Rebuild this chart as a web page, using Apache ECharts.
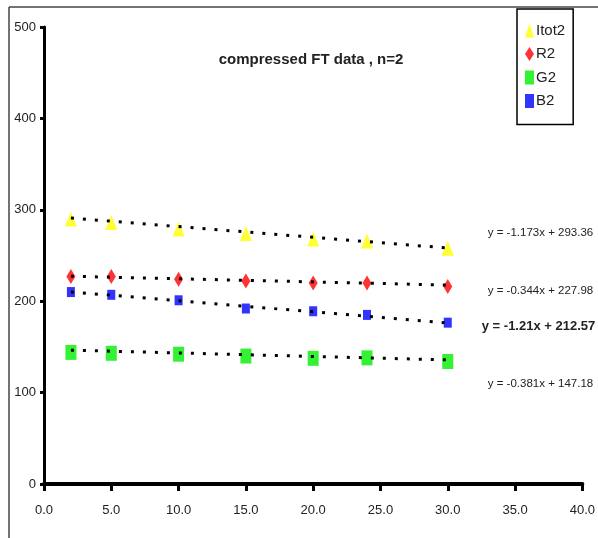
<!DOCTYPE html>
<html lang="en">
  <head>
    <meta charset="UTF-8" />
    <title>compressed FT data</title>
    <script src="https://cdn.jsdelivr.net/npm/echarts@6/dist/echarts.min.js"></script>
    <style>
      html, body { margin: 0; padding: 0; background: #fff; }
    </style>
  </head>

  <body>
    <div id="main" style="width: 598px; height: 538px"></div>

    <script type="text/javascript">
      // data
      const xValues = [2, 5, 10, 15, 20, 24, 30];
      const itot2 = [290, 286, 279, 274, 268, 266, 258];
      const r2 = [227, 227, 224, 222, 220, 220, 216];
      const g2 = [144, 143, 142, 140, 137.5, 138, 134];
      const b2 = [210, 207, 201, 192, 189, 185, 176.5];

      // trend line coefficients, as printed on the chart
      const slopes = [-1.173, -0.344, -0.381, -1.21];
      const intercepts = [293.36, 227.98, 147.18, 212.57];
      const eqLabels = [
        "y = -1.173x + 293.36",
        "y = -0.344x + 227.98",
        "y = -0.381x + 147.18",
        "y = -1.21x + 212.57",
      ];

      const xTicks = ["0.0", "5.0", "10.0", "15.0", "20.0", "25.0", "30.0", "35.0", "40.0"];

      const font = '"Liberation Sans", Arial, sans-serif';

      let pairs = (ys) => xValues.map((x, i) => [x, ys[i]]);

      // trend line from first to last x
      let trend = (k) => {
        let x0 = xValues[0];
        let x1 = xValues[xValues.length - 1];
        return [
          [x0, slopes[k] * x0 + intercepts[k]],
          [x1, slopes[k] * x1 + intercepts[k]],
        ];
      };

      // label offsets next to each trend line end
      const labelOffsets = [[32, -15], [32, 6], [32, 24], [26, 4]];

      let trendSeries = [0, 1, 2, 3].map((k) => ({
        type: "line",
        data: trend(k),
        showSymbol: false,
        silent: true,
        z: 5,
        lineStyle: { color: "#000", width: 3, type: [3, 9] },
        endLabel: {
          show: true,
          formatter: eqLabels[k],
          offset: labelOffsets[k],
          fontFamily: font,
          fontSize: k === 3 ? 13 : 11.5,
          fontWeight: k === 3 ? "bold" : "normal",
          color: "#222",
        },
      }));

      let myChart = echarts.init(document.getElementById("main"));

      let options = {
        animation: false,
        title: {
          text: "compressed FT data , n=2",
          left: 306,
          top: 47,
          textAlign: "center",
          textStyle: { fontFamily: font, fontSize: 15, fontWeight: "bold", color: "#222" },
        },
        legend: {
          orient: "vertical",
          left: 517,
          top: 9,
          width: 57,
          padding: [14, 8, 16, 8],
          itemGap: 8.5,
          itemWidth: 9,
          itemHeight: 14,
          borderColor: "#000",
          borderWidth: 1.5,
          borderRadius: 0,
          textStyle: { fontFamily: font, fontSize: 15, color: "#222", padding: [0, 0, 0, -3] },
          data: ["Itot2", "R2", "G2", "B2"],
        },
        graphic: [
          { type: "line", shape: { x1: 9, y1: 7, x2: 598, y2: 7 }, style: { stroke: "#444", lineWidth: 1.5 } },
          { type: "line", shape: { x1: 9, y1: 7, x2: 9, y2: 538 }, style: { stroke: "#444", lineWidth: 1.5 } },
        ],
        grid: { left: 44, right: 13, top: 27, bottom: 54 },
        xAxis: {
          type: "value",
          min: 0,
          max: 40,
          interval: 5,
          splitLine: { show: false },
          axisLine: { lineStyle: { color: "#000", width: 4 } },
          axisTick: { show: true, length: 7, lineStyle: { color: "#000", width: 3 } },
          axisLabel: {
            margin: 20,
            fontFamily: font,
            fontSize: 13,
            color: "#222",
            formatter: (v) => xTicks[v / 5],
          },
        },
        yAxis: {
          type: "value",
          min: 0,
          max: 500,
          interval: 100,
          splitLine: { show: false },
          axisLine: { show: true, lineStyle: { color: "#000", width: 3 } },
          axisTick: { show: true, length: 4, lineStyle: { color: "#000", width: 3 } },
          axisLabel: { margin: 8, fontFamily: font, fontSize: 13, color: "#222" },
        },
        series: [
          {
            name: "Itot2",
            type: "scatter",
            data: pairs(itot2),
            symbol: "triangle",
            symbolSize: [12, 15],
            itemStyle: { color: "#ffff00" },
          },
          {
            name: "R2",
            type: "scatter",
            data: pairs(r2),
            symbol: "diamond",
            symbolSize: [9, 15],
            itemStyle: { color: "#ff0000" },
          },
          {
            name: "G2",
            type: "scatter",
            data: pairs(g2),
            symbol: "rect",
            symbolSize: [11, 15],
            itemStyle: { color: "#00ee00" },
          },
          {
            name: "B2",
            type: "scatter",
            data: pairs(b2),
            symbol: "rect",
            symbolSize: [8, 10],
            itemStyle: { color: "#0000ff" },
          },
          ...trendSeries,
        ],
      };

      myChart.setOption(options);
    </script>
  </body>
</html>
